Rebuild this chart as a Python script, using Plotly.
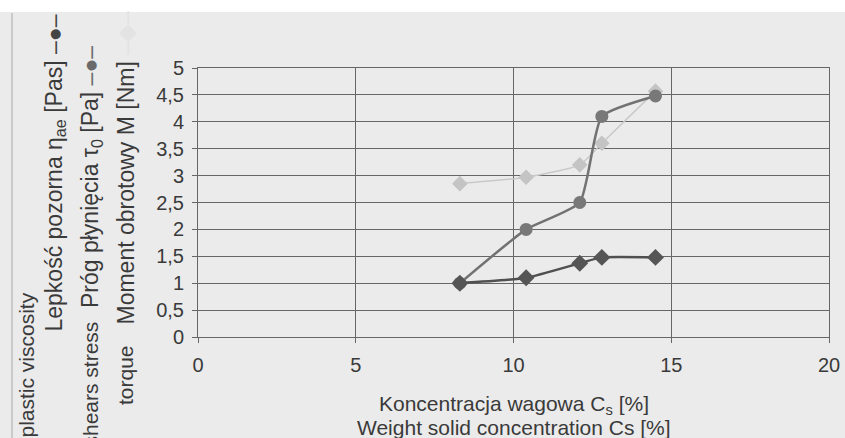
import plotly.graph_objects as go

# Data
conc = [8.3, 10.4, 12.1, 12.8, 14.5]               # weight solid concentration Cs [%]
viscosity = [1.0, 1.1, 1.37, 1.48, 1.48]            # Lepkość pozorna [Pas]
yield_stress = [1.0, 2.0, 2.5, 4.1, 4.48]           # Próg płynięcia [Pa]
torque = [2.85, 2.97, 3.2, 3.6, 4.57]               # Moment obrotowy [Nm]
x_ticks = [0, 5, 10, 15, 20]
y_ticks = [0, 0.5, 1, 1.5, 2, 2.5, 3, 3.5, 4, 4.5, 5]

W, H = 845, 438
L, R, T, B = 198, 16, 68, 101
PW, PH = W - L - R, H - T - B

def px(x):
    return (x - L) / PW

def py(y):
    return (H - B - y) / PH

FONT = "Liberation Sans, Arial, sans-serif"
BG = "#ebebeb"
TXT = "#3a3a3a"

fig = go.Figure()
fig.add_trace(go.Scatter(
    x=conc, y=torque, mode="lines+markers",
    line=dict(color="#c9c9c9", width=1.5, shape="spline", smoothing=0.5),
    marker=dict(symbol="diamond", size=12, color="#c4c4c4"),
    showlegend=False))
fig.add_trace(go.Scatter(
    x=conc, y=yield_stress, mode="lines+markers",
    line=dict(color="#727272", width=2.5, shape="spline", smoothing=0.5),
    marker=dict(symbol="circle", size=13, color="#787878"),
    showlegend=False))
fig.add_trace(go.Scatter(
    x=conc, y=viscosity, mode="lines+markers",
    line=dict(color="#505050", width=2.5, shape="spline", smoothing=0.5),
    marker=dict(symbol="diamond", size=13, color="#555555"),
    showlegend=False))

axis_common = dict(
    showgrid=True, gridcolor="#666666", gridwidth=1,
    showline=True, linecolor="#666666", linewidth=1, mirror=True,
    ticks="outside", ticklen=5, tickcolor="#666666",
    zeroline=False,
    tickfont=dict(family=FONT, size=20, color=TXT),
)

fig.update_xaxes(range=[0, 20], tickvals=x_ticks, ticklabelstandoff=5, **axis_common)
fig.update_yaxes(range=[0, 5], tickvals=y_ticks, ticklabelstandoff=4, **axis_common)

ann = []
title_font = dict(family=FONT, size=21, color=TXT)
ann.append(dict(text="Koncentracja wagowa C<sub>s</sub> [%]", x=0.5, y=py(405),
                xref="paper", yref="paper", xanchor="center", yanchor="middle",
                showarrow=False, font=title_font))
ann.append(dict(text="Weight solid concentration Cs [%]", x=0.5, y=py(428),
                xref="paper", yref="paper", xanchor="center", yanchor="middle",
                showarrow=False, font=title_font))

en_font = dict(family=FONT, size=21, color=TXT)
pl_font = dict(family=FONT, size=23, color=TXT)


def rot(text, xc, ypix, anchor, font):
    ann.append(dict(text=text, x=px(xc), y=py(ypix), xref="paper", yref="paper",
                    xanchor="center", yanchor=anchor, textangle=-90,
                    showarrow=False, font=font))


rot("plastic viscosity", 26, 290, "top", en_font)
rot("Lepkość pozorna η<sub>ae</sub> [Pas] <span style='color:#444'>–●–</span>",
    55, 334, "bottom", pl_font)
rot("shears stress", 90, 320, "top", en_font)
rot("Próg płynięcia τ<sub>0</sub> [Pa] <span style='color:#6a6a6a'>–●–</span>",
    91, 310, "bottom", pl_font)
rot("torque", 125, 343, "top", en_font)
rot("Moment obrotowy M [Nm] <span style='color:#e3e3e3'>–◆–</span>",
    125, 327, "bottom", pl_font)

shapes = [
    dict(type="rect", xref="paper", yref="paper", x0=px(0), x1=px(W), y0=py(12), y1=py(0),
         fillcolor="white", line=dict(width=0), layer="above"),
    dict(type="line", xref="paper", yref="paper", x0=px(12), x1=px(12), y0=py(438), y1=py(13),
         line=dict(color="#a8a8a8", width=1)),
]

fig.update_layout(
    width=W, height=H,
    margin=dict(l=L, r=R, t=T, b=B, autoexpand=False),
    paper_bgcolor=BG, plot_bgcolor=BG,
    separators=", ",
    annotations=ann, shapes=shapes,
    font=dict(family=FONT),
)

fig.write_html("out.html", config={"displayModeBar": False},
               post_script="document.body.style.margin='0';document.body.style.padding='0';")
